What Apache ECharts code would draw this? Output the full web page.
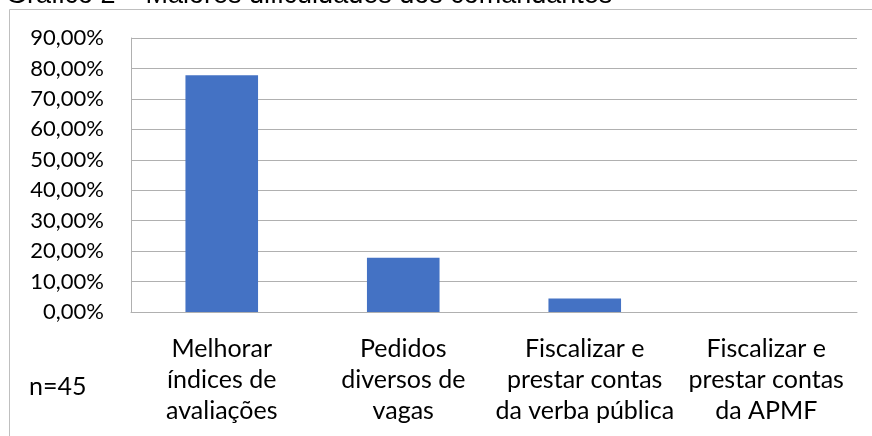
<!DOCTYPE html>
<html>
<head>
<meta charset="utf-8">
<script src="https://cdn.jsdelivr.net/npm/echarts@6/dist/echarts.min.js"></script>
<style>
  html, body { margin: 0; padding: 0; background: #fff; }
  #chart { width: 872px; height: 436px; }
</style>
</head>
<body>
<div id="chart"></div>
<script>
// Gráfico 2 – dados (percentual, n=45)
const categorias = [
  "Melhorar\níndices de\navaliações",
  "Pedidos\ndiversos de\nvagas",
  "Fiscalizar e\nprestar contas\nda verba pública",
  "Fiscalizar e\nprestar contas\nda APMF"
];
const valores = [77.78, 17.78, 4.44, 0];
const yTicks = [0, 10, 20, 30, 40, 50, 60, 70, 80, 90];

const fonte = "Lato, 'Noto Sans', sans-serif";
const cinza = "#b0b0b0";

const chart = echarts.init(document.getElementById("chart"));
chart.setOption({
  animation: false,
  grid: { left: 131, right: 15, top: 38, bottom: 124 },
  graphic: [
    {
      type: "rect",
      shape: { x: 9.5, y: 9.5, width: 900, height: 460 },
      style: { fill: "none", stroke: "#bfbfbf", lineWidth: 1 }
    },
    {
      type: "text",
      left: 6,
      top: -18,
      style: {
        text: "Gráfico 2 – Maiores dificuldades dos comandantes",
        font: "27px 'Liberation Sans', Arial, sans-serif",
        fill: "#000"
      }
    },
    {
      type: "text",
      left: 29,
      top: 374,
      style: { text: "n=45", font: "25px " + fonte, fill: "#000" }
    }
  ],
  xAxis: {
    type: "category",
    data: categorias,
    axisLine: { show: true, lineStyle: { color: cinza, width: 1 } },
    axisTick: { show: false },
    axisLabel: {
      interval: 0,
      margin: 21,
      color: "#000",
      fontFamily: fonte,
      fontSize: 25,
      lineHeight: 31,
      align: "center"
    }
  },
  yAxis: {
    type: "value",
    min: yTicks[0],
    max: yTicks[yTicks.length - 1],
    interval: 10,
    axisLine: { show: true, lineStyle: { color: cinza, width: 1 } },
    axisTick: { show: false },
    splitLine: { lineStyle: { color: cinza, width: 1 } },
    axisLabel: {
      margin: 27,
      color: "#000",
      fontFamily: fonte,
      fontSize: 22,
      formatter: (v) => v.toFixed(2).replace(".", ",") + "%"
    }
  },
  series: [
    {
      type: "bar",
      data: valores,
      barWidth: "40%",
      itemStyle: { color: "#4472C4" }
    }
  ]
});
</script>
</body>
</html>
